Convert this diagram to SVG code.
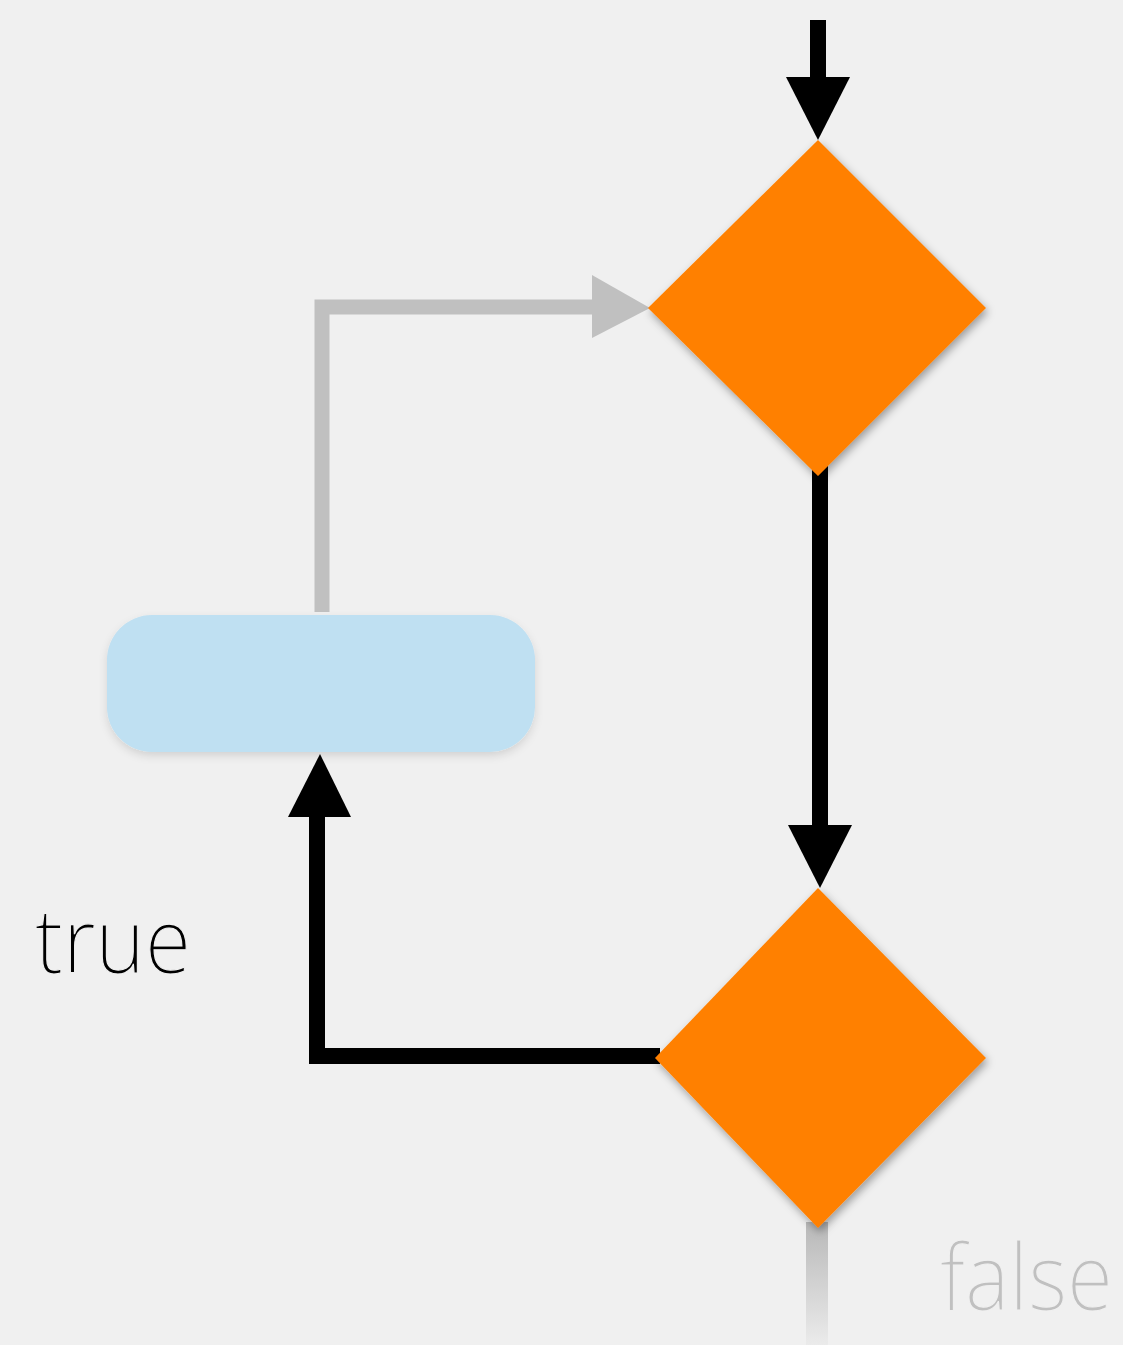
<svg xmlns="http://www.w3.org/2000/svg" width="1123" height="1345" viewBox="0 0 1123 1345">
<style>
.label{font-family:"Open Sans","Liberation Sans",sans-serif;font-weight:300;stroke:#F0F0F0;stroke-width:1.2;paint-order:fill}
.blk{fill:none;stroke:#000;stroke-width:16}
.gry{fill:none;stroke:#C0C0C0;stroke-width:15}
.dia{fill:#FF8000;filter:url(#sh)}
</style>
<defs>
<filter id="sh" x="-20%" y="-20%" width="140%" height="140%">
<feDropShadow dx="2" dy="4" stdDeviation="4" flood-color="#000" flood-opacity="0.35"/>
</filter>
<filter id="sh2" x="-20%" y="-20%" width="140%" height="150%">
<feDropShadow dx="0" dy="4" stdDeviation="4" flood-color="#000" flood-opacity="0.12"/>
</filter>
<linearGradient id="fade" x1="0" y1="0" x2="0" y2="1">
<stop offset="0" stop-color="#B8B8B8"/>
<stop offset="1" stop-color="#EBEBEB"/>
</linearGradient>
</defs>
<rect width="1123" height="1345" fill="#F0F0F0"/>
<g id="connectors">
<path class="gry" d="M322,612 V307 H596"/>
<polygon points="592,275 650,308 592,338" fill="#C0C0C0"/>
<rect x="806" y="1222" width="22" height="123" fill="url(#fade)"/>
<line class="blk" x1="818" y1="20" x2="818" y2="80"/>
<polygon points="786,77 850,77 818,140" fill="#000"/>
<line class="blk" x1="820" y1="465" x2="820" y2="828"/>
<polygon points="788,825 852,825 820,888" fill="#000"/>
<path class="blk" d="M660,1056 H317 V812"/>
<polygon points="288,817 351,817 320,754" fill="#000"/>
</g>
<g id="node-loop-body">
<rect x="107" y="615" width="428" height="137" rx="45" ry="45" fill="#BFE0F2" filter="url(#sh2)"/>
</g>
<g id="node-decision-1">
<polygon class="dia" points="818,140 986,308 818,476 648,308"/>
</g>
<g id="node-decision-2">
<polygon class="dia" points="818,888 986,1058 818,1228 655,1058"/>
</g>
<text class="label" x="35" y="973" font-size="91" fill="#000" textLength="156" lengthAdjust="spacingAndGlyphs">true</text>
<text class="label" x="940" y="1310" font-size="93" fill="#C0C0C0" textLength="173" lengthAdjust="spacingAndGlyphs">false</text>
</svg>
